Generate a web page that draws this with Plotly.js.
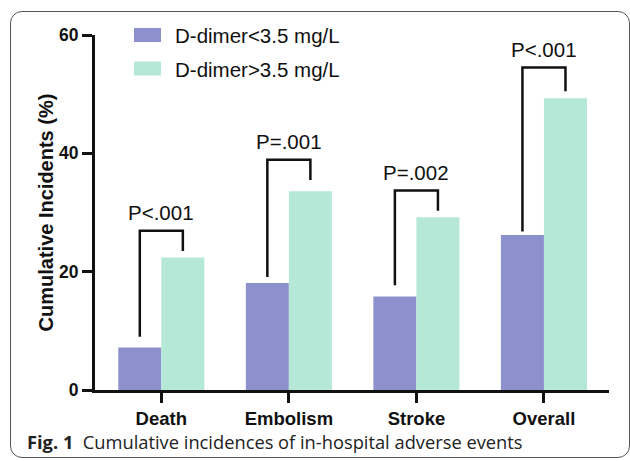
<!DOCTYPE html>
<html>
<head>
<meta charset="utf-8">
<script src="https://cdn.plot.ly/plotly-3.0.1.min.js"></script>
<style>
  html, body { margin: 0; padding: 0; background: #ffffff; }
  #wrap { position: relative; width: 630px; height: 461px; overflow: hidden; }
  #frame { position: absolute; left: 10px; top: 11px; width: 620px; height: 447px;
           border: 1px solid #555555; border-radius: 12px; box-sizing: border-box; }
  #chart { position: absolute; left: 0; top: 0; width: 630px; height: 461px; }
</style>
</head>
<body>
<div id="wrap">
  <div id="frame"></div>
  <div id="chart"></div>
</div>
<script>
// ---- data ----
const categories = ["Death", "Embolism", "Stroke", "Overall"];
const seriesNames = ["D-dimer<3.5 mg/L", "D-dimer>3.5 mg/L"];
const lowDimer = [7.2, 18.1, 15.8, 26.2];
const highDimer = [22.4, 33.6, 29.2, 49.3];
const pLabels = ["P<.001", "P=.001", "P=.002", "P<.001"];
const bracketTop = [26.9, 38.9, 33.7, 54.5];
const bracketLeftEnd = [9.0, 19.1, 17.7, 26.8];
const bracketRightEnd = [23.5, 35.5, 30.3, 50.5];
const yTicks = [0, 20, 40, 60];
const captionBold = "Fig. 1";
const captionText = "Cumulative incidences of in-hospital adverse events";
const yTitle = "Cumulative Incidents (%)";

// ---- style ----
const colors = ["#8c91cd", "#b5e8d6"];
const bargap = 0.325;
const FONT = "Arial, 'Liberation Sans', sans-serif";
const idx = categories.map((_, i) => i);
const off = (1 - bargap) / 4;

const traces = [
  { type: "bar", x: idx, y: lowDimer, name: seriesNames[0],
    marker: { color: colors[0], line: { width: 0 } }, showlegend: false, hoverinfo: "y" },
  { type: "bar", x: idx, y: highDimer, name: seriesNames[1],
    marker: { color: colors[1], line: { width: 0 } }, showlegend: false, hoverinfo: "y" }
];

// significance brackets
idx.forEach(i => {
  traces.push({
    type: "scatter", mode: "lines",
    x: [i - off, i - off, i + off, i + off],
    y: [bracketLeftEnd[i], bracketTop[i], bracketTop[i], bracketRightEnd[i]],
    line: { color: "#111111", width: 2.5 },
    showlegend: false, hoverinfo: "skip", cliponaxis: false
  });
});

const annotations = idx.map(i => ({
  x: i, y: bracketTop[i], xref: "x", yref: "y",
  text: pLabels[i], showarrow: false, yanchor: "bottom", yshift: 5,
  font: { family: FONT, size: 20.5, color: "#111111" }
}));

// custom legend (paper coords)
const L = 95, W = 514, B = 390, H = 355;
const px = v => (v - L) / W;
const py = v => (B - v) / H;
const shapes = [];
const legendRows = [35, 68.5];
seriesNames.forEach((n, k) => {
  const cy = legendRows[k];
  shapes.push({ type: "rect", xref: "paper", yref: "paper",
    x0: px(134), x1: px(161), y0: py(cy - 7), y1: py(cy + 7),
    fillcolor: colors[k], line: { width: 0 } });
  annotations.push({ xref: "paper", yref: "paper", x: px(173), y: py(cy + 0.5),
    xanchor: "left", yanchor: "middle", showarrow: false, text: n,
    font: { family: FONT, size: 20.5, color: "#111111" } });
});

// caption
annotations.push({ xref: "paper", yref: "paper", x: px(25), y: py(441),
  xanchor: "left", yanchor: "middle", showarrow: false,
  text: "<b>" + captionBold + "</b>  " + captionText,
  font: { family: "'Open Sans', 'Noto Sans', sans-serif", size: 18.3, color: "#222222" } });

const layout = {
  width: 630, height: 461,
  margin: { l: 95, r: 21, t: 35, b: 71, pad: 0 },
  paper_bgcolor: "rgba(0,0,0,0)", plot_bgcolor: "rgba(0,0,0,0)",
  barmode: "group", bargap: bargap, bargroupgap: 0,
  showlegend: false,
  xaxis: {
    range: [-0.52, 3.51], tickvals: idx, ticktext: categories,
    showline: true, linewidth: 3, linecolor: "#111111",
    ticks: "outside", ticklen: 10, tickwidth: 3, tickcolor: "#111111",
    showgrid: false, zeroline: false,
    tickfont: { family: FONT, size: 18.5, weight: "bold", color: "#111111" }
  },
  yaxis: {
    range: [0, 60], tickvals: yTicks,
    showline: true, linewidth: 3, linecolor: "#111111",
    ticks: "outside", ticklen: 10, tickwidth: 3, tickcolor: "#111111",
    showgrid: false, zeroline: false,
    tickfont: { family: FONT, size: 17.5, weight: "bold", color: "#111111" },
    title: { text: yTitle, standoff: 1,
      font: { family: FONT, size: 20, weight: "bold", color: "#111111" } }
  },
  shapes: shapes,
  annotations: annotations
};

Plotly.newPlot("chart", traces, layout, { displayModeBar: false, staticPlot: true });
</script>
</body>
</html>
